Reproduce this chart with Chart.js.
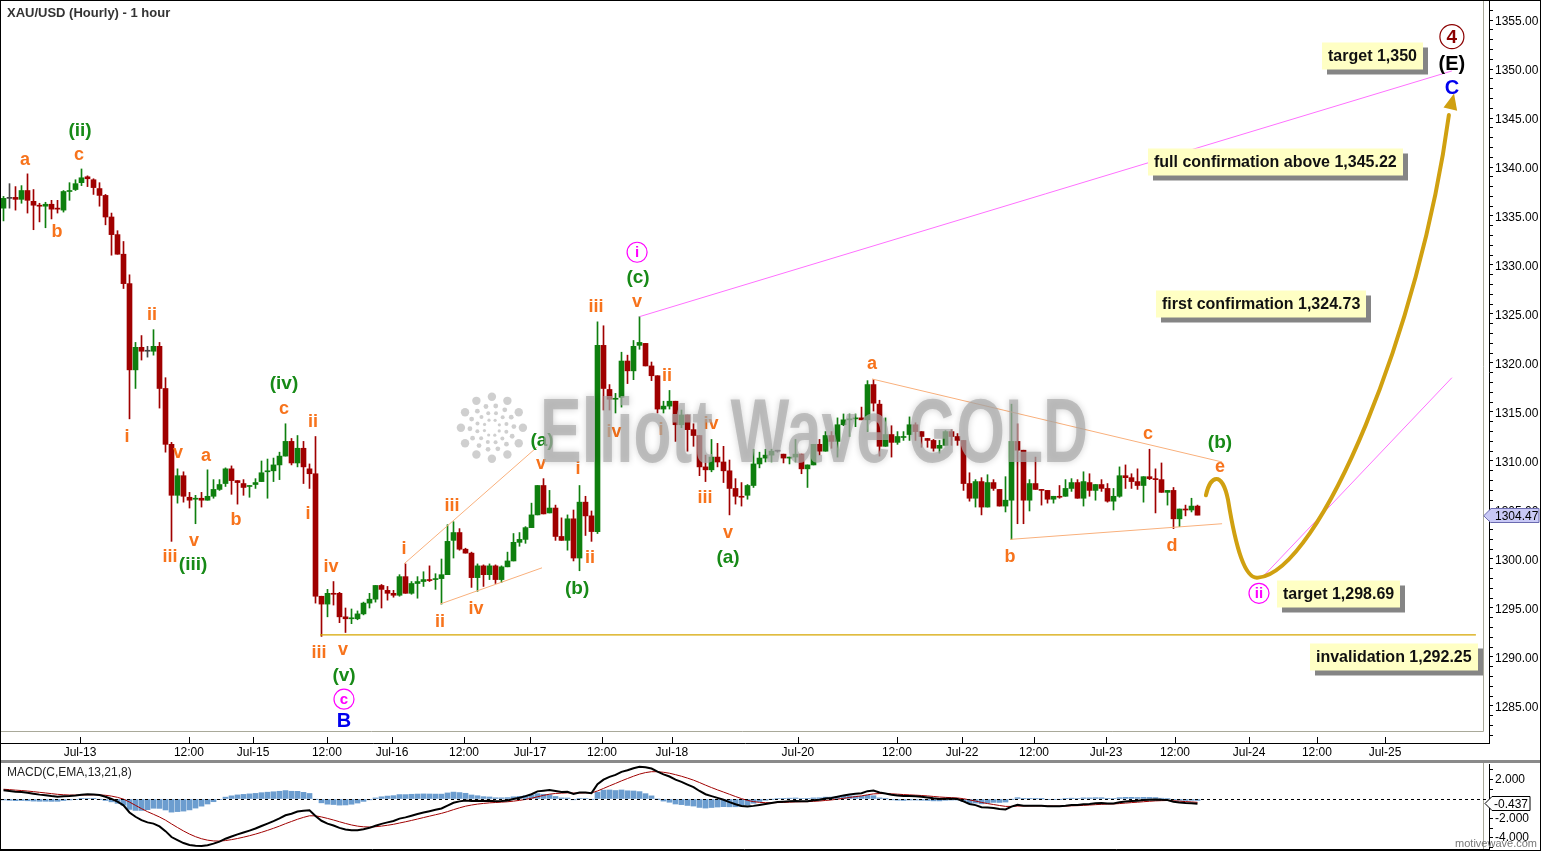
<!DOCTYPE html>
<html>
<head>
<meta charset="utf-8">
<script src="https://cdn.jsdelivr.net/npm/chart.js@4.4.1/dist/chart.umd.min.js"></script>
<style>
html, body { margin: 0; padding: 0; background: #fff; }
#wrap { position: relative; width: 1541px; height: 851px; overflow: hidden; }
canvas { display: block; }
#sep { height: 3px; background: #8a8a8a; }
#frame { position: absolute; left: 0; top: 0; width: 1539px; height: 849px; border: 1px solid #000; pointer-events: none; }
</style>
</head>
<body>
<div id="wrap">
  <canvas id="price" width="1541" height="760"></canvas>
  <div id="sep"></div>
  <canvas id="macd" width="1541" height="88"></canvas>
  <div id="frame"></div>
</div>
<script>
const FONT = '"Liberation Sans", Arial, sans-serif';
Chart.defaults.font.family = FONT;

// hourly XAU/USD candles (one per slot)
const opens = [
  1335.8, 1336.8, 1336.9, 1336.7, 1337.6, 1336.5, 1336.1, 1336.0, 1336.2, 1335.8,
  1335.6, 1337.5, 1337.7, 1338.4, 1339.0, 1338.7, 1337.8, 1337.1, 1334.9, 1333.1,
  1331.1, 1328.1, 1319.3, 1321.6, 1321.2, 1321.2, 1321.7, 1317.4, 1311.7, 1306.5,
  1308.5, 1306.3, 1306.1, 1306.2, 1306.0, 1306.4, 1307.1, 1307.7, 1309.2, 1308.0,
  1307.7, 1307.4, 1307.6, 1307.9, 1308.9, 1309.0, 1309.6, 1310.5, 1312.0, 1309.8,
  1311.3, 1309.2, 1308.7, 1296.2, 1295.4, 1296.5, 1296.5, 1294.1, 1293.9, 1293.9,
  1294.4, 1295.5, 1295.9, 1297.3, 1296.8, 1296.5, 1296.3, 1298.2, 1296.5, 1297.5,
  1297.7, 1297.9, 1297.9, 1298.0, 1298.4, 1301.9, 1302.7, 1301.0, 1300.6, 1298.1,
  1299.3, 1298.4, 1299.3, 1297.9, 1299.2, 1299.8, 1301.7, 1302.0, 1303.2, 1304.5,
  1307.5, 1304.7, 1305.2, 1302.3, 1301.9, 1304.1, 1300.1, 1305.8, 1304.4, 1302.8,
  1321.8, 1317.3, 1316.3, 1316.5, 1320.2, 1319.2, 1321.8, 1322.0, 1319.7, 1318.7,
  1315.3, 1315.6, 1316.1, 1313.7, 1314.7, 1313.2, 1312.6, 1309.4, 1309.1, 1310.4,
  1309.9, 1309.0, 1307.2, 1306.4, 1306.5, 1307.5, 1309.7, 1310.3, 1310.6, 1311.0,
  1310.7, 1310.3, 1310.4, 1310.7, 1309.2, 1309.6, 1311.7, 1311.0, 1312.6, 1312.0,
  1313.7, 1314.2, 1314.3, 1314.4, 1314.2, 1317.8, 1315.8, 1311.5, 1312.7, 1311.9,
  1312.4, 1312.7, 1313.7, 1313.0, 1312.3, 1312.1, 1311.3, 1311.6, 1313.0, 1312.5,
  1312.1, 1307.7, 1306.2, 1307.9, 1305.3, 1307.8, 1307.1, 1305.4, 1306.0, 1312.0,
  1311.1, 1306.0, 1307.7, 1307.1, 1307.0, 1306.1, 1306.4, 1306.4, 1307.2, 1307.8,
  1306.2, 1307.8, 1307.0, 1307.6, 1307.2, 1305.9, 1306.4, 1308.5, 1308.3, 1307.9,
  1307.5, 1308.4, 1308.2, 1308.1, 1306.8, 1307.0, 1304.1, 1305.1, 1305.0, 1305.4
];
const highs = [
  1337.0, 1338.3, 1338.0, 1338.1, 1339.3, 1337.7, 1336.3, 1336.4, 1336.6, 1336.6,
  1337.6, 1338.4, 1338.7, 1339.8, 1339.1, 1338.8, 1338.4, 1337.2, 1335.3, 1333.5,
  1332.4, 1329.0, 1322.1, 1322.8, 1321.7, 1323.4, 1322.1, 1318.5, 1311.9, 1309.2,
  1308.9, 1306.8, 1306.5, 1306.8, 1309.1, 1308.1, 1308.1, 1309.3, 1309.5, 1308.0,
  1308.1, 1307.5, 1308.2, 1310.0, 1310.2, 1310.3, 1310.9, 1313.8, 1312.3, 1312.6,
  1312.0, 1309.7, 1312.5, 1296.2, 1296.9, 1297.7, 1296.6, 1295.0, 1294.9, 1294.7,
  1295.6, 1296.5, 1297.3, 1297.4, 1297.2, 1296.8, 1298.4, 1299.5, 1297.7, 1298.2,
  1298.7, 1299.3, 1298.5, 1300.0, 1303.5, 1303.8, 1303.1, 1301.1, 1300.7, 1299.5,
  1299.4, 1299.5, 1299.4, 1299.3, 1300.7, 1302.6, 1302.7, 1303.3, 1305.7, 1307.5,
  1308.2, 1307.0, 1305.5, 1304.2, 1304.5, 1305.0, 1307.5, 1306.4, 1304.9, 1324.2,
  1323.8, 1317.8, 1316.9, 1321.1, 1320.8, 1322.3, 1324.73, 1322.0, 1320.1, 1318.7,
  1316.1, 1317.2, 1316.1, 1315.2, 1314.7, 1313.8, 1312.6, 1310.6, 1312.2, 1311.8,
  1311.5, 1310.1, 1308.2, 1307.8, 1307.6, 1311.2, 1310.9, 1311.2, 1311.2, 1311.1,
  1310.7, 1310.4, 1312.2, 1310.7, 1309.6, 1311.7, 1312.2, 1313.0, 1313.0, 1314.4,
  1314.8, 1314.8, 1314.8, 1315.5, 1318.2, 1318.3, 1316.2, 1314.4, 1313.6, 1313.0,
  1313.0, 1314.5, 1313.9, 1313.0, 1312.3, 1312.2, 1312.1, 1313.1, 1313.2, 1312.8,
  1312.1, 1308.8, 1308.1, 1308.3, 1308.6, 1308.1, 1307.1, 1308.4, 1315.8, 1313.8,
  1311.1, 1308.1, 1310.4, 1307.1, 1307.0, 1306.4, 1307.5, 1308.1, 1308.2, 1308.1,
  1308.9, 1308.7, 1307.6, 1308.1, 1307.7, 1307.2, 1309.4, 1309.6, 1308.7, 1309.2,
  1308.4, 1311.2, 1309.2, 1309.8, 1307.0, 1307.3, 1305.1, 1305.5, 1306.2, 1305.5
];
const lows = [
  1334.5, 1335.8, 1335.6, 1336.3, 1335.3, 1333.6, 1334.4, 1333.8, 1334.7, 1335.3,
  1335.4, 1336.6, 1337.6, 1338.1, 1338.0, 1337.2, 1336.0, 1334.1, 1331.0, 1331.1,
  1327.6, 1314.3, 1317.4, 1320.3, 1320.6, 1320.8, 1315.4, 1310.9, 1301.8, 1305.7,
  1305.8, 1305.2, 1303.6, 1305.3, 1306.0, 1306.2, 1307.0, 1307.4, 1306.6, 1305.6,
  1306.5, 1306.3, 1307.2, 1307.9, 1306.2, 1307.9, 1308.1, 1310.5, 1309.6, 1309.4,
  1307.7, 1307.2, 1295.5, 1292.1, 1294.1, 1295.3, 1293.5, 1292.5, 1293.4, 1293.8,
  1294.3, 1295.0, 1295.6, 1295.0, 1295.8, 1296.1, 1296.2, 1296.5, 1296.4, 1296.0,
  1297.2, 1297.7, 1296.9, 1295.4, 1298.4, 1300.1, 1300.9, 1300.6, 1297.1, 1296.7,
  1297.2, 1297.9, 1297.5, 1297.6, 1299.2, 1299.8, 1301.3, 1301.6, 1303.2, 1304.5,
  1304.6, 1304.7, 1301.9, 1301.9, 1300.9, 1299.8, 1298.8, 1302.4, 1301.8, 1302.6,
  1315.2, 1315.2, 1314.9, 1315.5, 1317.9, 1318.3, 1321.4, 1319.7, 1318.2, 1314.9,
  1314.9, 1315.3, 1312.0, 1313.4, 1311.0, 1311.5, 1308.5, 1307.9, 1308.9, 1309.4,
  1307.8, 1304.5, 1305.6, 1305.4, 1306.1, 1307.3, 1309.3, 1309.9, 1309.9, 1310.9,
  1309.8, 1309.7, 1309.9, 1308.7, 1307.3, 1309.6, 1310.6, 1311.0, 1311.3, 1310.4,
  1313.6, 1312.5, 1313.5, 1314.2, 1313.0, 1315.1, 1310.5, 1311.5, 1310.4, 1311.7,
  1312.1, 1312.1, 1312.1, 1311.4, 1311.4, 1311.0, 1310.8, 1311.6, 1311.6, 1311.6,
  1307.0, 1305.9, 1305.3, 1304.5, 1305.3, 1307.0, 1305.4, 1304.8, 1302.0, 1303.6,
  1303.6, 1304.9, 1307.1, 1305.5, 1305.7, 1305.7, 1306.2, 1306.4, 1306.9, 1306.2,
  1305.4, 1306.4, 1306.0, 1306.9, 1305.8, 1305.0, 1306.3, 1307.2, 1307.2, 1307.1,
  1305.8, 1308.1, 1304.7, 1306.8, 1305.5, 1303.1, 1303.3, 1304.4, 1304.8, 1304.5
];
const closes = [
  1336.8, 1336.8, 1336.7, 1337.6, 1336.6, 1336.1, 1336.0, 1336.2, 1335.7, 1335.7,
  1337.5, 1337.6, 1338.3, 1338.9, 1338.8, 1337.9, 1337.1, 1334.9, 1333.1, 1331.1,
  1328.1, 1319.3, 1321.6, 1321.2, 1321.2, 1321.7, 1317.4, 1311.7, 1306.5, 1308.5,
  1306.4, 1306.0, 1306.2, 1306.0, 1306.4, 1307.1, 1307.6, 1309.2, 1308.0, 1307.8,
  1307.3, 1307.5, 1307.8, 1308.8, 1309.0, 1309.6, 1310.5, 1312.0, 1309.8, 1311.3,
  1309.4, 1308.7, 1296.2, 1295.4, 1296.5, 1296.4, 1294.1, 1293.9, 1293.95, 1294.4,
  1295.5, 1295.9, 1297.3, 1296.9, 1296.5, 1296.3, 1298.2, 1296.5, 1297.5, 1297.7,
  1297.9, 1297.8, 1298.0, 1298.4, 1301.8, 1302.7, 1301.0, 1300.6, 1298.1, 1299.3,
  1298.4, 1299.3, 1297.9, 1299.2, 1299.8, 1301.7, 1302.0, 1303.2, 1304.5, 1307.5,
  1304.6, 1305.2, 1302.3, 1301.9, 1304.1, 1300.1, 1305.8, 1304.4, 1302.8, 1321.8,
  1317.4, 1316.3, 1316.4, 1320.2, 1319.2, 1321.7, 1322.1, 1319.7, 1318.7, 1315.3,
  1315.6, 1316.1, 1313.7, 1314.7, 1313.2, 1312.6, 1309.4, 1309.1, 1310.4, 1309.9,
  1309.0, 1307.2, 1306.4, 1306.3, 1307.5, 1309.7, 1310.3, 1310.6, 1311.0, 1311.0,
  1310.3, 1310.4, 1310.7, 1309.2, 1309.6, 1311.7, 1311.0, 1312.6, 1312.0, 1313.7,
  1314.2, 1314.3, 1314.4, 1314.2, 1317.8, 1315.9, 1311.5, 1312.7, 1311.9, 1312.5,
  1312.5, 1313.7, 1313.0, 1312.5, 1312.1, 1311.3, 1311.6, 1313.0, 1312.5, 1312.1,
  1307.7, 1306.2, 1307.9, 1305.3, 1307.8, 1307.2, 1305.4, 1306.0, 1312.0, 1311.1,
  1306.0, 1307.7, 1307.1, 1307.0, 1306.1, 1306.4, 1306.3, 1307.2, 1307.8, 1306.2,
  1307.9, 1307.0, 1307.6, 1307.2, 1305.9, 1306.4, 1308.5, 1308.3, 1307.9, 1307.5,
  1308.4, 1308.2, 1308.1, 1306.8, 1307.0, 1304.1, 1305.1, 1305.0, 1305.4, 1304.47
];

// time axis: slot numbers where the date / hour labels sit
const tickSlots = [12.75, 30.9, 41.6, 53.9, 64.75, 76.75, 87.75, 99.75, 111.4, 132.4,
                   148.9, 159.75, 171.75, 183.75, 195.25, 207.6, 218.9, 230.25];
const tickLabels = ['Jul-13', '12:00', 'Jul-15', '12:00', 'Jul-16', '12:00', 'Jul-17', '12:00', 'Jul-18', 'Jul-20',
                    '12:00', 'Jul-22', '12:00', 'Jul-23', '12:00', 'Jul-24', '12:00', 'Jul-25'];

// MACD(C,EMA,13,21,8)
const macdFast = 13, macdSlow = 21, macdSignal = 8;
const macdStart = 0.9, signalStart = 1.0;   // levels at the left edge of the pane
const macdLast = -0.437;

// wave labels: [text, style, slot, price]
const waveLabels = [
  ['a', 'o', 3.6, 1340.8], ['(ii)', 'g', 12.75, 1343.8], ['c', 'o', 12.6, 1341.3], ['b', 'o', 8.9, 1333.5],
  ['ii', 'o', 24.75, 1325.0], ['i', 'o', 20.6, 1312.55], ['v', 'o', 29.1, 1310.9], ['a', 'o', 33.75, 1310.6],
  ['b', 'o', 38.75, 1304.1], ['iii', 'o', 27.75, 1300.3], ['(iii)', 'g', 31.6, 1299.5], ['v', 'o', 31.75, 1301.9],
  ['(iv)', 'g', 46.75, 1318.0], ['c', 'o', 46.75, 1315.4], ['ii', 'o', 51.6, 1314.1], ['i', 'o', 50.75, 1304.7],
  ['iv', 'o', 54.6, 1299.3], ['iii', 'o', 52.6, 1290.5], ['v', 'o', 56.6, 1290.8], ['(v)', 'g', 56.75, 1288.2],
  ['c', 'm', 56.75, 1285.7], ['B', 'b', 56.75, 1283.5],
  ['i', 'o', 66.75, 1301.1], ['iii', 'o', 74.75, 1305.5], ['ii', 'o', 72.75, 1293.7], ['iv', 'o', 78.75, 1295.0],
  ['(a)', 'g', 89.75, 1312.2], ['v', 'o', 89.6, 1309.8], ['i', 'o', 95.75, 1309.3], ['(b)', 'g', 95.6, 1297.1],
  ['ii', 'o', 97.75, 1300.2], ['iii', 'o', 98.75, 1325.8], ['iv', 'o', 101.75, 1313.1],
  ['i', 'm', 105.6, 1331.3], ['(c)', 'g', 105.75, 1328.8], ['v', 'o', 105.6, 1326.3],
  ['ii', 'o', 110.6, 1318.8], ['i', 'o', 109.6, 1313.3], ['iv', 'o', 117.9, 1313.9], ['iii', 'o', 116.9, 1306.3],
  ['v', 'o', 120.75, 1302.8], ['(a)', 'g', 120.75, 1300.2],
  ['a', 'o', 144.75, 1320.0], ['b', 'o', 167.75, 1300.3], ['c', 'o', 190.75, 1312.9], ['d', 'o', 194.75, 1301.4],
  ['(b)', 'g', 202.75, 1312.0], ['e', 'o', 202.75, 1309.5], ['ii', 'm', 209.25, 1296.5],
  ['4', 'r', 241.4, 1353.3], ['(E)', 'k', 241.4, 1350.6], ['C', 'b', 241.4, 1348.1]
];

// trend lines: [slot1, price1, slot2, price2, style]
const trendLines = [
  [106, 1324.73, 241.4, 1349.8, 'm'],
  [209.75, 1298.1, 241.4, 1318.5, 'm'],
  [66.75, 1299.5, 88.9, 1311.4, 'o'],
  [72.75, 1295.4, 89.75, 1299.1, 'o'],
  [144.75, 1318.37, 203.1, 1309.9, 'o'],
  [167.75, 1302.0, 203.1, 1303.6, 'o'],
  [52.75, 1292.25, 245.4, 1292.25, 'y']
];

// projected path (slot, price) : start, then bezier triples
const pathStart = [200.4, 1306.5];
const pathCurves = [
  [[201.1, 1308.5], [203.1, 1309.1], [204.1, 1306.0]],
  [[205.4, 1301.1], [206.9, 1297.9], [209.1, 1298.1]],
  [[219.4, 1298.7], [236.1, 1323.4], [240.9, 1345.3]]
];
const pathTip = [241.6, 1347.1];

// note boxes: [text, slot of left edge, price]
const noteBoxes = [
  ['target 1,350', 219.8, 1351.3],
  ['full confirmation above 1,345.22', 190.8, 1340.5],
  ['first confirmation 1,324.73', 192.0, 1326.0],
  ['target 1,298.69', 212.3, 1296.4],
  ['invalidation 1,292.25', 217.7, 1289.95]
];

const GREEN = '#0f7f0f', RED = '#a00000', GRAY = '#444444';
const LABEL_STYLE = {
  o: { color: '#f7731c', font: 'bold 18px ' + FONT },
  g: { color: '#178a17', font: 'bold 19px ' + FONT },
  b: { color: '#0000ee', font: 'bold 20px ' + FONT },
  k: { color: '#000000', font: 'bold 20px ' + FONT },
  m: { color: '#ff00ff', font: 'bold 15px ' + FONT, ring: 10 },
  r: { color: '#8b0000', font: 'bold 19px ' + FONT, ring: 12 }
};
const LINE_STYLE = { m: ['#ff70ff', 1], o: ['#f9b07c', 1], y: ['#d6a600', 1.2] };

const X_MIN = -2.5 / 6, X_MAX = X_MIN + 1488 / 6;
const Y_MAX = 1355 + 19 / 9.8, Y_MIN = 1355 - 723 / 9.8;

const candleColors = closes.map((c, i) => c > opens[i] ? GREEN : (c < opens[i] ? RED : GRAY));
const bodyData = closes.map((c, i) => ({ x: i, y: [opens[i], c] }));
const wickData = closes.map((c, i) => ({ x: i, y: [lows[i], highs[i]] }));

// MACD lines from the closes
let eF = closes[0], eS = closes[0] - macdStart, sig = signalStart;
const macdData = [], signalData = [], histData = [];
closes.forEach((c, i) => {
    if (i > 0) {
        eF += (c - eF) * 2 / (macdFast + 1);
        eS += (c - eS) * 2 / (macdSlow + 1);
    }
    const m = eF - eS;
    if (i > 0) sig += (m - sig) * 2 / (macdSignal + 1);
    macdData.push({ x: i, y: m });
    signalData.push({ x: i, y: sig });
    histData.push({ x: i, y: m - sig });
});

// keep the plot edges where they are: no room reserved for overhanging labels
const noPadY = width => s => { s.width = width; s.paddingTop = 0; s.paddingBottom = 0; };
const noPadX = height => s => { s.height = height; s.paddingLeft = 0; s.paddingRight = 0; };

const priceOverlay = {
    id: 'priceOverlay',
    afterDatasetsDraw(chart) {
        const { ctx, chartArea: area } = chart;
        const xs = chart.scales.x, ys = chart.scales.y;
        const X = v => xs.getPixelForValue(v), Y = v => ys.getPixelForValue(v);
        const innerR = area.right - 6, innerB = area.bottom - 12;

        ctx.save();
        // inner plot frame
        ctx.strokeStyle = '#a9a99a';
        ctx.lineWidth = 1;
        ctx.beginPath();
        ctx.moveTo(innerR + 0.5, area.top);
        ctx.lineTo(innerR + 0.5, innerB + 0.5);
        ctx.lineTo(area.left, innerB + 0.5);
        ctx.stroke();

        // time ticks rising from the axis line
        ctx.strokeStyle = '#000';
        tickSlots.forEach(v => {
            const px = Math.round(X(v)) + 0.5;
            ctx.beginPath();
            ctx.moveTo(px, area.bottom - 6);
            ctx.lineTo(px, area.bottom);
            ctx.stroke();
        });

        // trend lines
        trendLines.forEach(([a, pa, b, pb, s]) => {
            ctx.strokeStyle = LINE_STYLE[s][0];
            ctx.lineWidth = LINE_STYLE[s][1];
            ctx.beginPath();
            ctx.moveTo(X(a), Y(pa));
            ctx.lineTo(X(b), Y(pb));
            ctx.stroke();
        });

        // projected path
        ctx.strokeStyle = '#d0a010';
        ctx.lineWidth = 4;
        ctx.lineCap = 'round';
        ctx.beginPath();
        ctx.moveTo(X(pathStart[0]), Y(pathStart[1]));
        pathCurves.forEach(([c1, c2, p]) => {
            ctx.bezierCurveTo(X(c1[0]), Y(c1[1]), X(c2[0]), Y(c2[1]), X(p[0]), Y(p[1]));
        });
        ctx.stroke();
        const last = pathCurves[pathCurves.length - 1];
        const bx = X(last[2][0]), by = Y(last[2][1]);
        const tx = X(pathTip[0]), ty = Y(pathTip[1]);
        const ang = Math.atan2(ty - by, tx - bx);
        ctx.fillStyle = '#d0a010';
        ctx.beginPath();
        ctx.moveTo(tx + Math.cos(ang) * 4, ty + Math.sin(ang) * 4);
        ctx.lineTo(tx - Math.cos(ang) * 12 + Math.cos(ang + Math.PI / 2) * 7, ty - Math.sin(ang) * 12 + Math.sin(ang + Math.PI / 2) * 7);
        ctx.lineTo(tx - Math.cos(ang) * 12 - Math.cos(ang + Math.PI / 2) * 7, ty - Math.sin(ang) * 12 - Math.sin(ang + Math.PI / 2) * 7);
        ctx.closePath();
        ctx.fill();

        // wave labels
        ctx.textAlign = 'center';
        ctx.textBaseline = 'middle';
        waveLabels.forEach(([t, s, i, p]) => {
            const st = LABEL_STYLE[s];
            const px = X(i), py = Y(p);
            if (st.ring) {
                ctx.beginPath();
                ctx.arc(px, py, st.ring, 0, Math.PI * 2);
                ctx.fillStyle = '#fff';
                ctx.fill();
                ctx.strokeStyle = st.color;
                ctx.lineWidth = 1.2;
                ctx.stroke();
            }
            ctx.font = st.font;
            ctx.fillStyle = st.color;
            ctx.fillText(t, px, py + 1);
        });

        // watermark
        const wx = X(135.1), wy = Y(1309.9);
        ctx.font = 'bold 90px ' + FONT;
        const tw = ctx.measureText('Elliott Wave GOLD').width;
        ctx.save();
        ctx.translate(wx, wy);
        ctx.scale(548 / tw, 1);
        ctx.shadowColor = 'rgba(0,0,0,0.25)';
        ctx.shadowBlur = 7;
        ctx.fillStyle = 'rgba(172,172,172,0.72)';
        ctx.textAlign = 'center';
        ctx.textBaseline = 'alphabetic';
        ctx.fillText('Elliott Wave GOLD', 0, 0);
        ctx.restore();
        const lx = X(81.4), ly = Y(1313.4);
        const rings = [[31, 12, 4.2], [22, 14, 2.4], [15, 12, 2], [8, 8, 1.6]];
        ctx.fillStyle = 'rgba(175,175,175,0.6)';
        rings.forEach(([r, n, d], k) => {
            for (let j = 0; j < n; j++) {
                const a = j / n * Math.PI * 2 + k * 0.4;
                ctx.beginPath();
                ctx.arc(lx + Math.cos(a) * r, ly + Math.sin(a) * r, d, 0, Math.PI * 2);
                ctx.fill();
            }
        });

        // note boxes
        ctx.font = 'bold 16px ' + FONT;
        ctx.textAlign = 'left';
        noteBoxes.forEach(([t, i, p]) => {
            const bxl = Math.round(X(i)), byc = Math.round(Y(p));
            const w = Math.round(ctx.measureText(t).width) + 12, h = 27;
            ctx.fillStyle = '#858585';
            ctx.fillRect(bxl + 5, byc - h / 2 + 5, w, h);
            ctx.fillStyle = '#ffffc4';
            ctx.fillRect(bxl, byc - h / 2, w, h);
            ctx.fillStyle = '#111';
            ctx.fillText(t, bxl + 6, byc + 1);
        });

        // title
        ctx.font = 'bold 13px ' + FONT;
        ctx.fillStyle = '#333';
        ctx.fillText('XAU/USD (Hourly) - 1 hour', 7, 13);

        // last price tag
        const py = Math.round(Y(closes[closes.length - 1])) + 0.5;
        const ax = area.right;
        ctx.beginPath();
        ctx.moveTo(ax - 5, py);
        ctx.lineTo(ax + 2, py - 7);
        ctx.lineTo(1539, py - 7);
        ctx.lineTo(1539, py + 7);
        ctx.lineTo(ax + 2, py + 7);
        ctx.closePath();
        ctx.fillStyle = '#c9c9f6';
        ctx.fill();
        ctx.strokeStyle = '#6a6ab0';
        ctx.lineWidth = 1;
        ctx.stroke();
        ctx.font = '12px ' + FONT;
        ctx.fillStyle = '#000';
        ctx.fillText(closes[closes.length - 1].toFixed(2), ax + 6, py + 1);
        ctx.restore();
    }
};

new Chart(document.getElementById('price'), {
    type: 'bar',
    data: {
        datasets: [
            { data: wickData, backgroundColor: candleColors, barThickness: 1, grouped: false, minBarLength: 1 },
            { data: bodyData, backgroundColor: candleColors, barThickness: 5, grouped: false, minBarLength: 1 }
        ]
    },
    options: {
        responsive: false,
        animation: false,
        events: [],
        layout: { padding: { left: 1, top: 1, right: 0, bottom: 0 } },
        plugins: { legend: { display: false }, tooltip: { enabled: false } },
        scales: {
            x: {
                type: 'linear', min: X_MIN, max: X_MAX, offset: false,
                grid: { display: true, drawOnChartArea: false, drawTicks: false },
                border: { display: true, color: '#000' },
                afterBuildTicks: s => { s.ticks = tickSlots.map(v => ({ value: v })); },
                afterFit: noPadX(17),
                ticks: { autoSkip: false, maxRotation: 0, padding: 2, color: '#000', font: { size: 12 },
                         callback: (v, k) => tickLabels[k] }
            },
            y: {
                position: 'right', min: Y_MIN, max: Y_MAX,
                grid: { drawOnChartArea: false, tickLength: 4, color: '#000' },
                border: { display: true, color: '#000' },
                afterBuildTicks: s => {
                    const t = [];
                    for (let v = 1282; v <= 1356; v++) t.push({ value: v });
                    s.ticks = t;
                },
                afterFit: noPadY(52),
                ticks: { autoSkip: false, padding: 2, labelOffset: 2, color: '#000', font: { size: 12 },
                         callback: v => (v % 5 === 0 ? v.toFixed(2) : '') }
            }
        }
    },
    plugins: [priceOverlay]
});

const macdOverlay = {
    id: 'macdOverlay',
    afterDatasetsDraw(chart) {
        const { ctx, chartArea: area } = chart;
        const ys = chart.scales.y;
        const zy = Math.round(ys.getPixelForValue(0)) + 0.5;
        ctx.save();
        ctx.strokeStyle = '#a9a99a';
        ctx.beginPath();
        ctx.moveTo(area.right - 5.5, 0);
        ctx.lineTo(area.right - 5.5, area.bottom);
        ctx.stroke();
        ctx.strokeStyle = '#000';
        ctx.setLineDash([3, 3]);
        ctx.beginPath();
        ctx.moveTo(area.left, zy);
        ctx.lineTo(area.right, zy);
        ctx.stroke();
        ctx.setLineDash([]);
        ctx.beginPath();
        ctx.moveTo(0, area.bottom + 0.5);
        ctx.lineTo(area.right, area.bottom + 0.5);
        ctx.stroke();

        ctx.font = '12px "Liberation Sans Narrow", ' + FONT;
        ctx.fillStyle = '#222';
        ctx.textAlign = 'left';
        ctx.textBaseline = 'middle';
        ctx.fillText('MACD(C,EMA,13,21,8)', 7, 10);

        const ty = Math.round(ys.getPixelForValue(macdLast)) + 0.5;
        const ax = area.right;
        ctx.beginPath();
        ctx.moveTo(ax - 4, ty);
        ctx.lineTo(ax + 3, ty - 7);
        ctx.lineTo(1530, ty - 7);
        ctx.lineTo(1530, ty + 7);
        ctx.lineTo(ax + 3, ty + 7);
        ctx.closePath();
        ctx.fillStyle = '#fff';
        ctx.fill();
        ctx.strokeStyle = '#000';
        ctx.stroke();
        ctx.fillStyle = '#000';
        ctx.font = '12px "Liberation Sans Narrow", ' + FONT;
        ctx.fillText(macdLast.toFixed(3), ax + 5, ty + 1);

        ctx.font = '11px ' + FONT;
        ctx.fillStyle = '#777';
        ctx.textAlign = 'right';
        ctx.fillText('motivewave.com', 1537, 81);
        ctx.restore();
    }
};

new Chart(document.getElementById('macd'), {
    type: 'bar',
    data: {
        datasets: [
            { type: 'line', data: macdData, borderColor: '#000', borderWidth: 2, pointRadius: 0, order: 1 },
            { type: 'line', data: signalData, borderColor: '#a00000', borderWidth: 1, pointRadius: 0, order: 2 },
            { type: 'bar', data: histData, backgroundColor: '#6c9dcf', barThickness: 5, grouped: false, order: 3 }
        ]
    },
    options: {
        responsive: false,
        animation: false,
        events: [],
        layout: { padding: { left: 1, top: 1, right: 0, bottom: 2 } },
        plugins: { legend: { display: false }, tooltip: { enabled: false } },
        scales: {
            x: { type: 'linear', display: false, min: X_MIN, max: X_MAX, offset: false },
            y: {
                position: 'right', min: -5.13, max: 3.59,
                grid: { drawOnChartArea: false, tickLength: 4, color: '#000' },
                border: { display: true, color: '#000' },
                afterBuildTicks: s => {
                    const t = [];
                    for (let v = -5; v <= 3; v++) t.push({ value: v });
                    s.ticks = t;
                },
                afterFit: noPadY(52),
                ticks: { autoSkip: false, padding: 2, color: '#000', font: { size: 12 },
                         callback: v => ([2, -2, -4].includes(v) ? v.toFixed(3) : '') }
            }
        }
    },
    plugins: [macdOverlay]
});
</script>
</body>
</html>
